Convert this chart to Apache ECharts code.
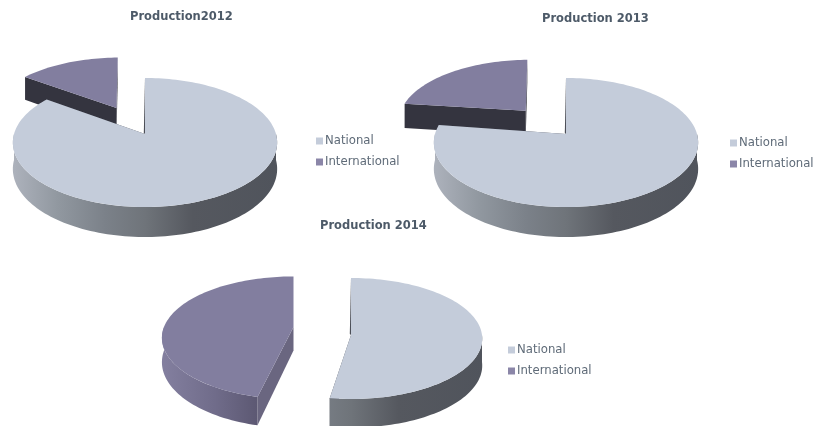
<!DOCTYPE html>
<html>
<head>
<meta charset="utf-8">
<style>
  html, body { margin: 0; padding: 0; background: #fff; }
  #chart { width: 814px; height: 426px; }
</style>
</head>
<body>
<div id="chart"></div>
<script src="https://cdn.jsdelivr.net/npm/echarts@6/dist/echarts.min.js"></script>
<script>
// values, share of production per year
const seriesNames = ["National", "International"];
const national = [85, 77, 53];
const international = [15, 23, 47];
const titles = ["Production2012", "Production 2013", "Production 2014"];

// where each pie sits: cx, cy = disc centre on screen, R, H = disc scale, k = perspective, T = thickness
// a slice can override any of them, shift moves it out of the disc, nudge trims its angles (degrees)
const pies = [
  {
    cx: 145, cy: 134, R: 131, H: 63.4, k: 0.132, T: 26,
    National: {},
    International: { shift: [-0.23, -0.434], nudge: [0, -1] },
  },
  {
    cx: 566, cy: 134, R: 131, H: 63.4, k: 0.132, T: 26,
    National: { nudge: [0, 1] },
    International: { shift: [-0.323, -0.386], nudge: [0, -1.5] },
  },
  {
    cx: 351, cy: 335, R: 131, H: 60.3, k: 0.058, T: 27,
    National: { nudge: [0, -2] },
    International: { cx: 293.5, cy: 327, R: 129.5, H: 59.5, k: 0.177, T: 23.5, nudge: [2.5, 0] },
  },
];

const styles = {
  National: {
    top: "#c4ccda",
    rim: [[0, "#adb2bc"], [0.17, "#9198a0"], [0.35, "#7b8189"], [0.5, "#6f747a"], [0.68, "#55585f"], [1, "#50545c"]],
    cut: "#4c4f58",
  },
  International: {
    top: "#827e9f",
    rim: [[0, "#837f9f"], [0.2, "#706c8a"], [0.38, "#5a5670"], [1, "#5a5670"]],
    cut: ["#34343f", "#34343f", "#6a6680"],
  },
};

const chart = echarts.init(document.getElementById("chart"));

const project = (pie, u, v, z) => {
  const d = 1 - pie.k * v;
  return [pie.cx + (pie.R * u) / d, pie.cy + (pie.H * v + (z ? pie.T : 0)) / d];
};

const rimPoints = (pie, shift, from, to, z) => {
  const pts = [];
  const n = Math.max(2, Math.ceil((to - from) / 0.03));
  for (let i = 0; i <= n; i++) {
    const a = from + ((to - from) * i) / n;
    pts.push(project(pie, shift[0] + Math.sin(a), shift[1] - Math.cos(a), z));
  }
  return pts;
};

const renderSlice = (name) => (params, api) => {
  const i = params.dataIndex;
  const pie = { ...pies[i], ...pies[i][name] };
  const shift = pie.shift || [0, 0];
  const nudge = pie.nudge || [0, 0];
  const total = national[i] + international[i];
  const val = api.value(0);
  const start = name === "National" ? 0 : (national[i] / total) * 2 * Math.PI;
  const from = start + (nudge[0] * Math.PI) / 180;
  const to = start + (val / total) * 2 * Math.PI + (nudge[1] * Math.PI) / 180;
  const st = styles[name];
  const apex = project(pie, shift[0], shift[1], false);
  const apexLow = project(pie, shift[0], shift[1], true);
  const children = [];

  // cut walls, seen only through the gap
  const cutColor = Array.isArray(st.cut) ? st.cut[i] : st.cut;
  [from, to].forEach((a) => {
    const a1 = project(pie, shift[0] + Math.sin(a), shift[1] - Math.cos(a), false);
    const a2 = project(pie, shift[0] + Math.sin(a), shift[1] - Math.cos(a), true);
    children.push({
      type: "polygon",
      shape: { points: [apex, a1, a2, apexLow] },
      style: { fill: cutColor },
    });
  });

  // outer wall, front half only
  const wallFrom = Math.max(from, Math.PI / 2);
  const wallTo = Math.min(to, (3 * Math.PI) / 2);
  if (wallTo > wallFrom) {
    const upper = rimPoints(pie, shift, wallFrom, wallTo, false);
    const lower = rimPoints(pie, shift, wallFrom, wallTo, true).reverse();
    const left = pie.cx + shift[0] * pie.R - pie.R * 1.01;
    const width = pie.R * 2.02;
    children.push({
      type: "polygon",
      shape: { points: upper.concat(lower) },
      style: {
        fill: new echarts.graphic.LinearGradient(
          left, 0, left + width, 0,
          st.rim.map((s) => ({ offset: s[0], color: s[1] })),
          true
        ),
      },
    });
  }

  // thin dark sliver of the wall beside the national slice's first edge
  if (name === "National") {
    const rimStart = project(pie, shift[0] + Math.sin(from), shift[1] - Math.cos(from), false);
    children.push({
      type: "polygon",
      shape: { points: [rimStart, apex, [apex[0] - 1.2, apex[1] - 1]] },
      style: { fill: cutColor },
    });
  }

  // top face
  children.push({
    type: "polygon",
    shape: { points: [apex].concat(rimPoints(pie, shift, from, to, false)) },
    style: { fill: st.top },
  });

  return { type: "group", children };
};

const legendSpots = [
  { left: 316, top: 135 },
  { left: 730, top: 137 },
  { left: 508, top: 344 },
];
const titleSpots = [
  { left: 130, top: 11 },
  { left: 542, top: 13 },
  { left: 320, top: 220 },
];

const option = {
  backgroundColor: "#fff",
  animation: false,
  title: titles.map((text, i) => ({
    text,
    left: titleSpots[i].left,
    top: titleSpots[i].top,
    padding: 0,
    textStyle: { fontFamily: "DejaVu Sans", fontSize: 11.5, fontWeight: "bold", color: "#4d5a68" },
  })),
  legend: legendSpots.map((spot) => ({
    data: seriesNames,
    orient: "vertical",
    left: spot.left,
    top: spot.top,
    padding: 0,
    itemGap: 9,
    itemWidth: 7,
    itemHeight: 7,
    icon: "rect",
    selectedMode: false,
    textStyle: { fontFamily: "DejaVu Sans", fontSize: 11.7, color: "#5f6b78", padding: [0, 0, 0, -3] },
  })),
  series: [
    {
      name: "International",
      type: "custom",
      coordinateSystem: "none",
      itemStyle: { color: "#8b86a8" },
      renderItem: renderSlice("International"),
      data: international,
    },
    {
      name: "National",
      type: "custom",
      coordinateSystem: "none",
      itemStyle: { color: "#c4ccda" },
      renderItem: renderSlice("National"),
      data: national,
    },
  ],
};

chart.setOption(option);
</script>
</body>
</html>
